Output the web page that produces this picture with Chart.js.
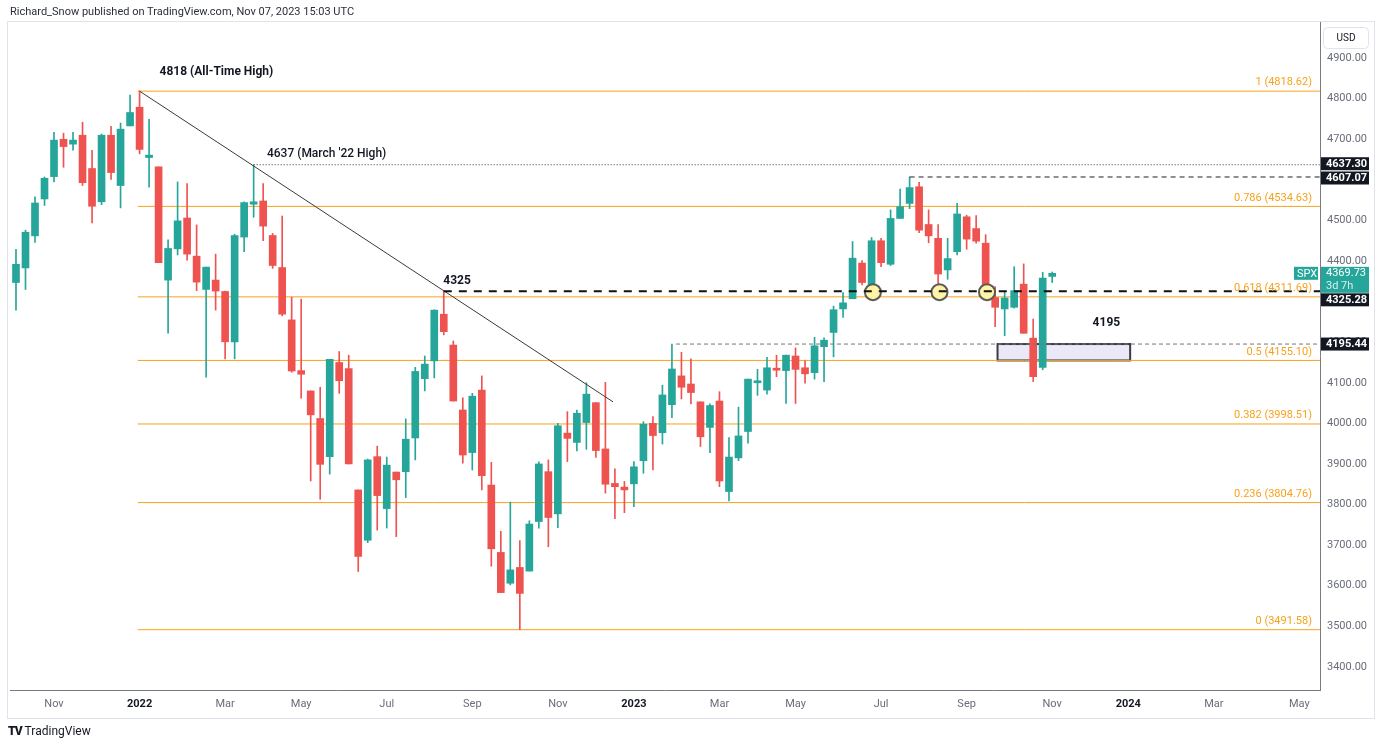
<!DOCTYPE html>
<html>
<head>
<meta charset="utf-8">
<script src="https://cdn.jsdelivr.net/npm/chart.js@4.4.0/dist/chart.umd.min.js"></script>
<style>
  html, body { margin:0; padding:0; background:#fff; }
  body { width:1380px; height:747px; position:relative; overflow:hidden; font-family: Roboto, "Liberation Sans", sans-serif; }
  #wrap { position:absolute; left:0; top:0; width:1380px; height:747px; }
  #hdr { position:absolute; left:10px; top:5px; font-size:11px; color:#2a2e39; }
  #ftr { position:absolute; left:8px; top:724px; font-size:12px; color:#131722; }
  #ftr b { font-weight:900; letter-spacing:-1px; margin-right:3px; }
</style>
</head>
<body>
<div id="wrap"><canvas id="spx"></canvas></div>
<div id="hdr">Richard_Snow published on TradingView.com, Nov 07, 2023 15:03 UTC</div>
<div id="ftr"><b>TV</b>TradingView</div>
<script>
// weekly SPX candles, first bar = week of 2021-10-04
var firstWeek = "2021-10-04";
var opens  = [4347,4383,4462,4553,4608,4700,4688,4710,4628,4546,4710,4586,4733,4779,4655,4632,4353,4430,4506,4412,
              4330,4353,4325,4201,4459,4540,4548,4463,4384,4255,4130,4080,4012,3918,4150,4135,3836,3712,3918,3790,
              3880,3881,3964,4110,4154,4269,4193,4033,3928,4082,3848,3682,3606,3645,3636,3758,3881,3777,3976,3953,
              4002,4051,3937,3852,3843,3851,3908,4000,3977,4046,4117,4097,4053,3990,4055,3832,3915,3980,4100,4082,
              4136,4130,4166,4137,4125,4189,4224,4282,4307,4395,4341,4450,4392,4505,4542,4583,4490,4456,4378,4423,
              4509,4480,4444,4310,4282,4286,4343,4210,4138,4362];
var highs  = [4429,4476,4558,4607,4717,4715,4717,4742,4673,4713,4732,4740,4809,4818.62,4749,4632,4452,4595,4591,4489,
              4385,4417,4326,4466,4546,4637.3,4591,4468,4511,4311,4306,4080,4089,4158,4177,4168,3836,3912,3944,3917,
              3880,4011,4138,4166,4280,4325.28,4203,4063,4074,4117,3904,3734,3806,3711,3760,3905,3910,4000,4029,4033,
              4100,4051,4101,3888,3857,3906,4004,4017,4094,4195.44,4175,4159,4053,4048,4078,3965,4040,4109,4133,4163,
              4168,4168,4186,4154,4212,4211,4289,4322,4448,4401,4458,4456,4526,4577,4607.07,4594,4526,4490,4456,4542,
              4513,4512,4465,4337,4324,4386,4393,4257,4372,4373];
var lows   = [4279,4330,4446,4537,4595,4631,4673,4586,4494,4539,4601,4531,4733,4664,4582,4396,4222,4415,4402,4327,
              4114,4279,4159,4159,4423,4508,4450,4382,4265,4126,4062,3858,3813,3875,4074,3900,3635,3706,3737,3742,
              3721,3817,3910,4080,4112,4218,4055,3902,3885,3836,3648,3583,3602,3491.58,3636,3742,3696,3743,3906,3932,
              3936,3916,3828,3765,3780,3795,3877,3885,3949,4014,4060,4048,3943,3928,3844,3809,3908,3951,4069,4072,
              4115,4049,4049,4099,4109,4103,4164,4261,4307,4341,4328,4386,4389,4505,4529,4470,4445,4326,4355,4415,
              4429,4444,4320,4238,4216,4284,4222,4103,4132,4347];
var closes = [4392,4471,4543,4604,4698,4682,4698,4593,4535,4710,4618,4725,4766,4675,4661,4396,4431,4499,4417,4348,
              4385,4326,4201,4463,4544,4546,4486,4389,4269,4129,4121,4021,3899,4158,4105,3900,3672,3910,3822,3897,
              3861,3961,4128,4146,4279,4226,4055,3922,4067,3871,3691,3583,3639,3581,3752,3900,3768,3994,3963,4025,
              4072,3933,3850,3844,3836,3893,3998,3970,4070,4134,4089,4076,3967,4044,3858,3917,3969,4109,4105,4137,
              4131,4168,4133,4122,4191,4205,4280,4297,4407,4347,4450,4396,4505,4534,4581,4476,4462,4368,4406,4516,
              4454,4449,4320,4286,4309,4327,4222,4115,4358,4369.73];

// fibonacci retracement 4818.62 -> 3491.58
var fibRatios = ["1", "0.786", "0.618", "0.5", "0.382", "0.236", "0"];
var fibPrices = [4818.62, 4534.63, 4311.69, 4155.10, 3998.51, 3804.76, 3491.58];
var fibFrom = "2022-01-03";

// axis ticks
var yTicks = [3400,3500,3600,3700,3800,3900,4000,4100,4200,4300,4400,4500,4600,4700,4800,4900];
var monthDates  = ["2021-11-01","2022-01-03","2022-03-07","2022-05-02","2022-07-04","2022-09-05","2022-11-07",
                   "2023-01-02","2023-03-06","2023-05-01","2023-07-03","2023-09-04","2023-11-06",
                   "2024-01-01","2024-03-04","2024-05-06"];
var monthLabels = ["Nov","2022","Mar","May","Jul","Sep","Nov","2023","Mar","May","Jul","Sep","Nov","2024","Mar","May"];

// drawn levels and marks
var athWeek = "2022-01-03", athPrice = 4818.62;
var trendEndWeek = "2022-12-19", trendEndPrice = 4053;
var marchHighWeek = "2022-03-28", marchHigh = 4637.30;
var julyHighWeek = "2023-07-24", julyHigh = 4607.07;
var augHighWeek = "2022-08-15", level4325 = 4325.28;
var febHighWeek = "2023-02-02", level4195 = 4195.44;
var touchWeeks = ["2023-06-27","2023-08-15","2023-09-19"];
var zoneWeeks = ["2023-09-25","2024-01-01"], zonePrices = [4155.10, 4195.44];
var lastPrice = 4369.73;

var GREEN = "#26a69a", RED = "#ef5350", FIB = "#f7a21b";

function wk(d) { return (Date.parse(d) - Date.parse(firstWeek)) / 604800000; }

var bodies = [], wicks = [], colors = [];
for (var i = 0; i < opens.length; i++) {
  bodies.push({x: i, y: [opens[i], closes[i]]});
  wicks.push({x: i, y: [lows[i], highs[i]]});
  colors.push(closes[i] >= opens[i] ? GREEN : RED);
}
var xMin = -0.63, xMax = 137.17;

function hline(price, fromWeek, color, width, dash, order) {
  return {
    type: "line", data: [{x: fromWeek, y: price}, {x: xMax, y: price}],
    borderColor: color, borderWidth: width, borderDash: dash || [],
    pointRadius: 0, fill: false, order: order
  };
}

var datasets = [
  {type: "bar", data: wicks, backgroundColor: colors, barThickness: 1, grouped: false, order: 4},
  {type: "bar", data: bodies, backgroundColor: colors, barThickness: 7, minBarLength: 2, grouped: false, order: 3}
];
fibPrices.forEach(function (p) { datasets.push(hline(p, wk(fibFrom) - 0.2, FIB, 1, null, 6)); });
datasets.push({type: "line", data: [{x: wk(athWeek), y: athPrice}, {x: wk(trendEndWeek) - 0.2, y: trendEndPrice}],
  borderColor: "#3a3a3a", borderWidth: 1, pointRadius: 0, order: 1});
datasets.push(hline(marchHigh, wk(marchHighWeek), "#333", 1, [1, 2], 1));
datasets.push(hline(julyHigh, wk(julyHighWeek), "#222", 1, [5, 4], 1));
datasets.push(hline(level4325, wk(augHighWeek), "#111", 2, [8, 7], 0));
datasets.push(hline(level4195, wk(febHighWeek), "#777", 1, [4, 3], 1));
datasets.push({type: "line", showLine: false, order: 2,
  data: touchWeeks.map(function (d) { return {x: wk(d), y: level4325 - 2}; }),
  pointRadius: 8, pointBackgroundColor: "#fff3a6", pointBorderColor: "#5a5a5a", pointBorderWidth: 2});

function box(ctx, x, y, w, h, bg, txt, fg, bold) {
  ctx.fillStyle = bg; ctx.fillRect(x, y, w, h);
  ctx.fillStyle = fg; ctx.font = (bold ? "bold " : "") + "11px Roboto, 'Liberation Sans', sans-serif";
  ctx.textAlign = "left"; ctx.textBaseline = "middle";
  ctx.fillText(txt, x + 5, y + h / 2 + 0.5);
}

var overlay = {
  id: "overlay",
  beforeDatasetsDraw: function (chart) {
    var ctx = chart.ctx, xs = chart.scales.x, ys = chart.scales.y;
    var x1 = xs.getPixelForValue(wk(zoneWeeks[0]) + 0.25), x2 = xs.getPixelForValue(wk(zoneWeeks[1]) + 0.2);
    var y1 = ys.getPixelForValue(zonePrices[1]), y2 = ys.getPixelForValue(zonePrices[0]);
    ctx.save();
    ctx.fillStyle = "#ebe9f7"; ctx.fillRect(x1, y1, x2 - x1, y2 - y1);
    ctx.strokeStyle = "#3b3b46"; ctx.lineWidth = 2; ctx.strokeRect(x1, y1, x2 - x1, y2 - y1);
    ctx.restore();
  },
  afterDatasetsDraw: function (chart) {
    var ctx = chart.ctx, xs = chart.scales.x, ys = chart.scales.y;
    ctx.save();
    // fib labels
    ctx.font = "11px Roboto, 'Liberation Sans', sans-serif";
    ctx.fillStyle = FIB; ctx.textAlign = "right"; ctx.textBaseline = "bottom";
    fibPrices.forEach(function (p, k) {
      ctx.fillText(fibRatios[k] + " (" + p.toFixed(2) + ")", chart.chartArea.right - 8, ys.getPixelForValue(p) - 3);
    });
    ctx.fillStyle = "#131722"; ctx.textBaseline = "middle";
    ctx.font = "bold 12px Roboto, 'Liberation Sans', sans-serif"; ctx.textAlign = "left";
    ctx.fillText("4818 (All-Time High)", xs.getPixelForValue(wk(athWeek) + 2.1), ys.getPixelForValue(4866));
    ctx.font = "500 12px Roboto, 'Liberation Sans', sans-serif";
    ctx.fillText("4637 (March '22 High)", xs.getPixelForValue(wk(marchHighWeek) + 1.4), ys.getPixelForValue(4664));
    ctx.font = "bold 12px Roboto, 'Liberation Sans', sans-serif"; ctx.textAlign = "center";
    ctx.fillText("4325", xs.getPixelForValue(wk(augHighWeek) + 1.4), ys.getPixelForValue(4351));
    ctx.fillText("4195", xs.getPixelForValue(114.7), ys.getPixelForValue(4247));
    ctx.restore();
  },
  afterDraw: function (chart) {
    var ctx = chart.ctx, ys = chart.scales.y, a = chart.chartArea;
    ctx.save();
    // frame
    ctx.strokeStyle = "#e0e3eb"; ctx.lineWidth = 1;
    ctx.strokeRect(7.5, 21.5, 1367, 697);
    var ax = a.right + 1, bw = 48, bh = 13;
    // USD box
    ctx.fillStyle = "#fff"; ctx.strokeStyle = "#e0e3eb";
    ctx.beginPath(); ctx.roundRect(a.right + 3.5, 27.5, 45, 21, 4); ctx.fill(); ctx.stroke();
    ctx.fillStyle = "#131722"; ctx.font = "10px Roboto, 'Liberation Sans', sans-serif";
    ctx.textAlign = "center"; ctx.textBaseline = "middle"; ctx.fillText("USD", a.right + 26, 38.5);
    box(ctx, ax, ys.getPixelForValue(marchHigh) - bh / 2 - 1, bw, bh, "#131722", marchHigh.toFixed(2), "#fff", true);
    box(ctx, ax, ys.getPixelForValue(julyHigh) - bh / 2 + 1, bw, bh, "#131722", julyHigh.toFixed(2), "#fff", true);
    box(ctx, ax, ys.getPixelForValue(level4195) - bh / 2, bw, bh, "#131722", level4195.toFixed(2), "#fff", true);
    // last price
    var py = ys.getPixelForValue(lastPrice);
    ctx.fillStyle = GREEN; ctx.fillRect(ax, py - 6.5, bw, 26);
    ctx.fillRect(a.right - 26, py - 6.5, 24, 13);
    ctx.fillStyle = "#fff"; ctx.font = "11px Roboto, 'Liberation Sans', sans-serif";
    ctx.textAlign = "left"; ctx.textBaseline = "middle";
    ctx.fillText(lastPrice.toFixed(2), ax + 5, py);
    ctx.fillText("SPX", a.right - 23, py + 0.5);
    ctx.fillStyle = "#d4f0ec"; ctx.fillText("3d 7h", ax + 5, py + 13);
    box(ctx, ax, Math.max(ys.getPixelForValue(level4325) - bh / 2, py + 20), bw, bh, "#131722", level4325.toFixed(2), "#fff", true);
    ctx.restore();
  }
};

new Chart("spx", {
  type: "bar",
  data: {datasets: datasets},
  plugins: [overlay],
  options: {
    responsive: true, maintainAspectRatio: false, animation: false,
    layout: {padding: {left: 8, top: 22, right: 5, bottom: 29}},
    plugins: {legend: {display: false}, tooltip: {enabled: false}},
    scales: {
      x: {
        type: "linear", min: xMin, max: xMax, offset: false,
        grid: {display: false, drawTicks: false},
        border: {display: true, color: "#787b86"},
        afterBuildTicks: function (s) { s.ticks = monthDates.map(function (d) { return {value: wk(d)}; }); },
        afterFit: function (s) { s.height = 28; },
        ticks: {
          autoSkip: false, maxRotation: 0, padding: 8,
          callback: function (v, idx) { return monthLabels[idx]; },
          color: function (c) { return /^\d+$/.test(monthLabels[c.index]) ? "#131722" : "#6a6d78"; },
          font: function (c) {
            return {family: "Roboto, 'Liberation Sans', sans-serif", size: 11,
                    weight: /^\d+$/.test(monthLabels[c.index]) ? "bold" : "normal"};
          }
        }
      },
      y: {
        type: "linear", position: "right", min: 3343, max: 4989,
        grid: {display: false, drawTicks: false},
        border: {display: true, color: "#787b86"},
        afterBuildTicks: function (s) { s.ticks = yTicks.map(function (v) { return {value: v}; }); },
        afterFit: function (s) { s.width = 55; },
        ticks: {
          padding: 7, color: "#6a6d78",
          font: {family: "Roboto, 'Liberation Sans', sans-serif", size: 11},
          callback: function (v) { return v.toFixed(2); }
        }
      }
    }
  }
});
</script>
</body>
</html>
